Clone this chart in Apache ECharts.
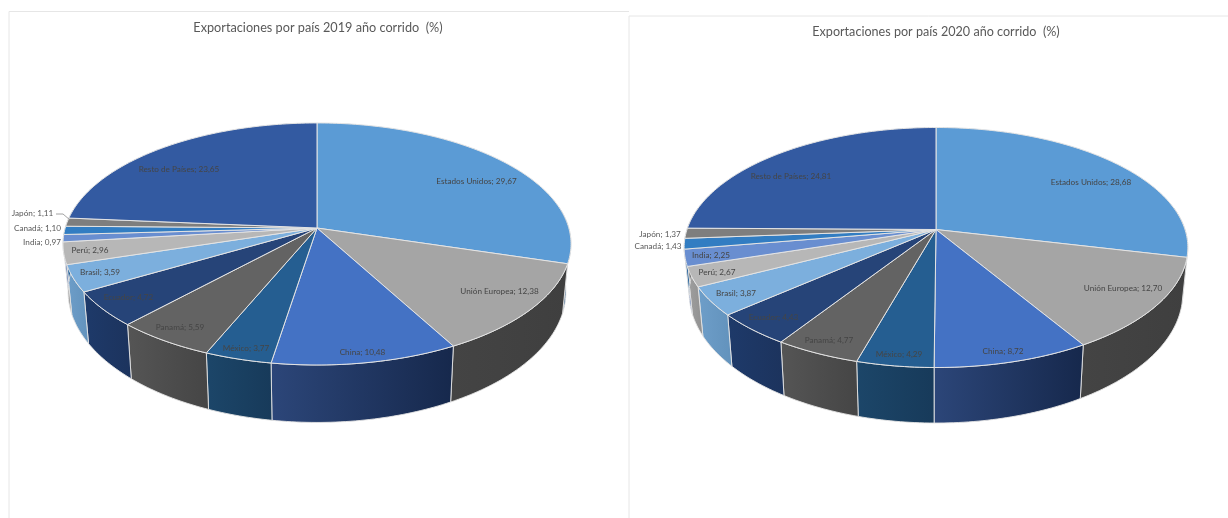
<!DOCTYPE html>
<html>
<head>
<meta charset="utf-8">
<style>html,body{margin:0;padding:0;background:#fff}#c{width:1228px;height:518px}</style>
<script src="https://cdn.jsdelivr.net/npm/echarts@6/dist/echarts.min.js"></script>
</head>
<body>
<div id="c"></div>
<script>
const categories = ['Estados Unidos','Unión Europea','China','México','Panamá','Ecuador','Brasil','Perú','India','Canadá','Japón','Resto de Países'];
const values2019 = [29.67,12.38,10.48,3.77,5.59,4.72,3.59,2.96,0.97,1.10,1.11,23.65];
const values2020 = [28.68,12.70,8.72,4.29,4.77,4.43,3.87,2.67,2.25,1.43,1.37,24.81];
const title2019 = 'Exportaciones por país 2019 año corrido  (%)';
const title2020 = 'Exportaciones por país 2020 año corrido  (%)';

const sliceColors = ['#5B9BD5','#A5A5A5','#4472C4','#255E91','#636363','#264478','#7CAFDD','#B7B7B7','#698ED0','#327DC2','#7E7E7E','#335AA1'];
const wallFrom    = ['#2A5F92','#444444','#2C4679','#1C4669','#555555','#1E3A6A','#6E9EC9','#A0A0A0','#5878B5','#2A6BA6','#6A6A6A','#2A4B87'];
const wallTo      = ['#1E4A75','#3F3F3F','#16284C','#173A5A','#454545','#1C335D','#6292BC','#909090','#4F6DA8','#245F96','#606060','#243F72'];

const labelSpots2019 = [[476.5,181],[499.5,291],[362.5,352],[246,348],[180,327],[128.5,297],[100,272],[90,250],[42,242],[37.5,228],[32.5,213],[179,169]];
const labelSpots2020 = [[1091,182],[1123,288],[1003,351],[899,354],[829,340],[773.5,317],[736,293],[717,272],[711,255],[658,246],[660,234],[791,176]];
const outsideLabels2019 = [8,9,10];
const outsideLabels2020 = [9,10];

const geom2019 = {cx:317, cy:228, R:251.8, S:118.9, k:0.132, D:46.5, fx:0.98, gy:1.08};
const geom2020 = {cx:936, cy:229.5, R:249,  S:117.3, k:0.150, D:44.5, fx:0.98, gy:1.08};

const LABEL_FONT = '8.2px Lato, "Noto Sans", sans-serif';
const EDGE = '#E4E4E4';

function project(g, frac, r, bottom) {
  const a = frac * 2 * Math.PI;
  const u = Math.sin(a) * r, v = -Math.cos(a) * r;
  const w = 1 - g.k * v;
  const px = g.R * u / w, py = g.S * v / w;
  return bottom ? [g.cx + g.fx * px, g.cy + g.D + g.gy * py] : [g.cx + px, g.cy + py];
}
function span(values, i) {
  const total = values.reduce((a, b) => a + b, 0);
  let start = 0;
  for (let j = 0; j < i; j++) start += values[j];
  return [start / total, (start + values[i]) / total];
}
function arc(g, f0, f1, bottom) {
  const n = Math.max(2, Math.ceil((f1 - f0) * 360));
  const pts = [];
  for (let j = 0; j <= n; j++) pts.push(project(g, f0 + (f1 - f0) * j / n, 1, bottom));
  return pts;
}
function topSeries(values, g) {
  return {
    type: 'custom', coordinateSystem: 'none', silent: true, z: 3, animation: false,
    data: values.map((v, i) => [i, v]),
    renderItem(params) {
      const i = params.dataIndex, s = span(values, i);
      return {type: 'polygon', shape: {points: [[g.cx, g.cy]].concat(arc(g, s[0], s[1], false))},
        style: {fill: sliceColors[i], stroke: EDGE, lineWidth: 1, lineJoin: 'round'}};
    }
  };
}
function wallSeries(values, g) {
  return {
    type: 'custom', coordinateSystem: 'none', silent: true, z: 2, animation: false,
    data: values.map((v, i) => [i, v]),
    renderItem(params) {
      const i = params.dataIndex, s = span(values, i);
      const f0 = Math.max(s[0], 0.22), f1 = Math.min(s[1], 0.78);
      if (f1 <= f0) return null;
      const pts = arc(g, f0, f1, false).concat(arc(g, f0, f1, true).reverse());
      return {type: 'polygon', shape: {points: pts},
        style: {fill: {type: 'linear', x: 0, y: 0, x2: 1, y2: 0, colorStops: [
          {offset: 0, color: wallFrom[i]}, {offset: 1, color: wallTo[i]}]},
          stroke: EDGE, lineWidth: 0.9}};
    }
  };
}
function labelSeries(values, spots, outside) {
  return {
    type: 'custom', coordinateSystem: 'none', silent: true, z: 5, animation: false,
    data: values.map((v, i) => [i, v]),
    renderItem(params, api) {
      const i = params.dataIndex;
      const text = categories[i] + '; ' + api.value(1).toFixed(2).replace('.', ',');
      return {type: 'text', style: {x: spots[i][0], y: spots[i][1], text, font: LABEL_FONT,
        fill: outside.includes(i) ? '#595959' : '#454545', align: 'center', verticalAlign: 'middle'}};
    }
  };
}
const chart = echarts.init(document.getElementById('c'));
chart.setOption({
  animation: false,
  backgroundColor: '#fff',
  title: [
    {text: title2019, left: 313, top: 16, textAlign: 'center', textStyle: {fontFamily: 'Lato', fontSize: 12.7, fontWeight: 'normal', color: '#595959'}},
    {text: title2020, left: 931, top: 20, textAlign: 'center', textStyle: {fontFamily: 'Lato', fontSize: 12.6, fontWeight: 'normal', color: '#595959'}}
  ],
  graphic: [
    {type: 'polyline', silent: true, shape: {points: [[9,518],[9,11.5],[629,11.5]]}, style: {stroke: '#E6E6E6', fill: 'none', lineWidth: 1}},
    {type: 'polyline', silent: true, shape: {points: [[629,518],[629,16],[1228,16]]}, style: {stroke: '#E6E6E6', fill: 'none', lineWidth: 1}},
    {type: 'polyline', silent: true, z: 10, shape: {points: [[56,214],[63,214],[70,220]]}, style: {stroke: '#8C8C8C', fill: 'none', lineWidth: 0.8}}
  ],
  series: [
    wallSeries(values2019, geom2019), topSeries(values2019, geom2019), labelSeries(values2019, labelSpots2019, outsideLabels2019),
    wallSeries(values2020, geom2020), topSeries(values2020, geom2020), labelSeries(values2020, labelSpots2020, outsideLabels2020)
  ]
});
</script>
</body>
</html>
